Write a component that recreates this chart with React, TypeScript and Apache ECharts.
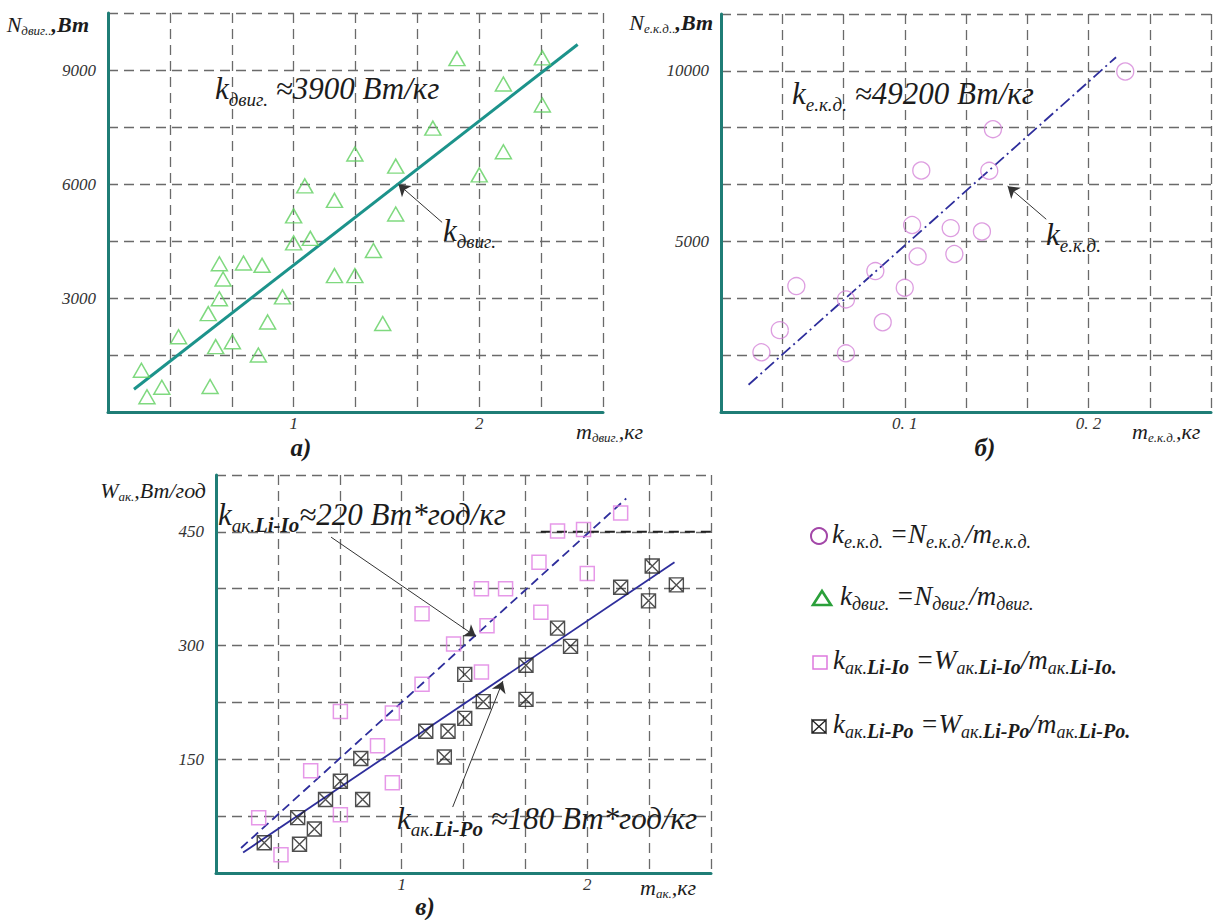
import React, { useEffect, useRef } from "react";
import * as echarts from "echarts";

// ---------- data ----------
// (а) electric motors: mass, kg / power, W
const motorMass = [0.18, 0.21, 0.29, 0.38, 0.54, 0.55, 0.58, 0.6, 0.62, 0.6, 0.67, 0.73, 0.81, 0.83, 0.86, 0.94, 1.0, 1.0, 1.09, 1.06, 1.22, 1.22, 1.33, 1.33, 1.43, 1.48, 1.55, 1.55, 1.75, 1.88, 2.0, 2.13, 2.13, 2.34, 2.34];
const motorPower = [1100, 400, 650, 1980, 2590, 670, 1720, 2980, 3500, 3900, 1850, 3920, 1500, 3860, 2370, 3030, 4450, 5160, 4570, 5950, 5570, 3590, 3590, 6790, 4250, 2330, 5210, 6470, 7470, 9300, 6240, 8630, 6850, 9320, 8080];
const motorFit = [[0.14, 600], [2.53, 9670]];
const motorArrow = [[1.8, 4990], [1.565, 5990]];

// (б) speed controllers: mass, kg / power, W
const ecuMass = [0.022, 0.032, 0.041, 0.068, 0.068, 0.084, 0.088, 0.1, 0.104, 0.107, 0.109, 0.125, 0.127, 0.142, 0.146, 0.148, 0.22];
const ecuPower = [1750, 2400, 3690, 3300, 1720, 4130, 2630, 3640, 5480, 4560, 7080, 5390, 4630, 5290, 7070, 8290, 9980];
const ecuFit = [[0.015, 800], [0.215, 10400]];
const ecuArrow = [[0.177, 5650], [0.156, 6620]];

// (в) batteries: mass, kg / energy, W*h
const liIoMass = [0.23, 0.35, 0.51, 0.67, 0.67, 0.87, 0.95, 0.95, 1.11, 1.11, 1.28, 1.43, 1.43, 1.46, 1.56, 1.75, 1.74, 1.84, 1.98, 2.0, 2.18];
const liIoEnergy = [73, 24, 135, 213, 77, 168, 211, 119, 249, 342, 302, 265, 375, 326, 375, 344, 410, 451, 453, 395, 475];
const liPoMass = [0.26, 0.44, 0.45, 0.53, 0.59, 0.67, 0.78, 0.79, 1.13, 1.25, 1.23, 1.34, 1.34, 1.44, 1.67, 1.67, 1.84, 1.91, 2.18, 2.35, 2.33, 2.48];
const liPoEnergy = [40, 73, 38, 58, 97, 121, 151, 97, 187, 187, 153, 262, 204, 226, 274, 229, 323, 299, 377, 405, 359, 380];
const liIoFit = [[0.135, 33], [2.21, 494]];
const liPoFit = [[0.146, 27], [2.47, 410]];
const liIoArrow = [[0.62, 443], [1.4, 312]];
const liPoArrow = [[1.275, 87], [1.545, 253]];
const ref450 = [[1.75, 450], [8 / 3, 450]];

// tick labels
const motorYLabels = [3000, 6000, 9000];
const ecuYLabels = [5000, 10000];
const battYLabels = [150, 300, 450];
const massXLabels = [1, 2];
const ecuXLabels = [0.1, 0.2];

const FAMILY = "Liberation Serif";
const FONT = "Liberation Serif, DejaVu Serif, serif";
const INK = "#1c1c1c";
const TEAL = "#1f7d76";
const LINE_TEAL = "#1c938b";
const BLUE = "#2e2e9c";
const GRID = "#6a6a6a";

const zip = (a: number[], b: number[]) => a.map((v, i) => [v, b[i]]);
const near = (v: number, list: number[]) => list.find((t) => Math.abs(v - t) < 1e-6);

// ---------- formula text with subscripts ----------
type Kind = "m" | "mb" | "s" | "sb";
type Spec = { big: number; sub: number; sb?: number; drop: number };
let measureCtx: CanvasRenderingContext2D | null = null;
function textWidth(text: string, size: number, bold: boolean) {
  if (!measureCtx) measureCtx = document.createElement("canvas").getContext("2d");
  if (!measureCtx) return text.length * size * 0.5;
  measureCtx.font = `italic ${bold ? "bold " : ""}${size}px ${FAMILY}`;
  return measureCtx.measureText(text).width;
}
function formula(x: number, y: number, spec: Spec, parts: [string, Kind][], align = "left") {
  const items = parts.map(([text, kind]) => {
    const bold = kind === "mb" || kind === "sb";
    const isSub = kind === "s" || kind === "sb";
    const size = kind === "sb" ? spec.sb || spec.sub : isSub ? spec.sub : spec.big;
    return { text, bold, isSub, size, w: textWidth(text, size, bold) };
  });
  const total = items.reduce((a, b) => a + b.w, 0);
  let cx = align === "right" ? x - total : align === "center" ? x - total / 2 : x;
  return items.map((it) => {
    const el = {
      type: "text",
      x: cx,
      y: it.isSub ? y + 0.32 * (spec.big - it.size) + spec.drop : y,
      z: 50,
      silent: true,
      style: {
        text: it.text,
        fontFamily: FAMILY,
        fontStyle: "italic",
        fontWeight: it.bold ? "bold" : "normal",
        fontSize: it.size,
        fill: INK,
        align: "left",
        verticalAlign: "middle",
      },
    };
    cx += it.w;
    return el;
  });
}

function xAxis(gridIndex: number, max: number, interval: number, labels: number[], fmt: (v: number) => string) {
  return {
    gridIndex,
    type: "value",
    min: 0,
    max,
    interval,
    axisLine: { show: true, onZero: false, lineStyle: { color: TEAL, width: 3 } },
    axisTick: { show: false },
    axisLabel: {
      margin: 3,
      fontFamily: FONT,
      fontStyle: "italic",
      fontSize: 17,
      color: "#333",
      formatter: (v: number) => {
        const t = near(v, labels);
        return t === undefined ? "" : fmt(t);
      },
    },
    splitLine: { show: true, lineStyle: { color: GRID, width: 1.3, type: [10, 6] } },
  };
}

function yLabel(v: number, labels: number[]) {
  const t = labels.find((l) => Math.abs(v - l) < 1e-3);
  return t === undefined ? "" : String(t);
}

function yAxis(gridIndex: number, max: number, interval: number, labels: number[]) {
  return {
    gridIndex,
    type: "value",
    min: 0,
    max,
    interval,
    axisLine: { show: true, onZero: false, lineStyle: { color: TEAL, width: 3 } },
    axisTick: { show: false },
    axisLabel: {
      margin: 12,
      fontFamily: FONT,
      fontStyle: "italic",
      fontSize: 17,
      color: "#333",
      formatter: (v: number) => yLabel(v, labels),
    },
    splitLine: { show: true, lineStyle: { color: GRID, width: 1.3, type: [10, 6] } },
  };
}

function fitLine(xi: number, data: number[][], color: string, type: any, width: number, arrow?: number[][]) {
  const s: any = {
    type: "line",
    xAxisIndex: xi,
    yAxisIndex: xi,
    data,
    symbol: "none",
    silent: true,
    z: 3,
    lineStyle: { color, width, type },
  };
  if (arrow) {
    s.markLine = {
      silent: true,
      symbol: ["none", "arrow"],
      symbolSize: 11,
      label: { show: false },
      itemStyle: { color: "#222" },
      lineStyle: { color: "#333", width: 1, type: "solid" },
      data: [[{ coord: arrow[0] }, { coord: arrow[1] }]],
    };
  }
  return s;
}

const CROSS_BOX = "path://M0 0H12V12H0Z M0 0L12 12 M12 0L0 12";

export default function App() {
  const ref = useRef<HTMLDivElement>(null);
  useEffect(() => {
    if (!ref.current) return;
    const chart = echarts.init(ref.current, undefined, { renderer: "svg" });

    const sAnn: Spec = { big: 31, sub: 19, drop: 8 };
    const sAnnC: Spec = { big: 31, sub: 19, sb: 21, drop: 8 };
    const sAx: Spec = { big: 22, sub: 13, drop: 4 };
    const sLeg: Spec = { big: 27, sub: 18, sb: 20, drop: 5 };
    const capStyle = (text: string, x: number, y: number) => ({
      type: "text",
      x,
      y,
      z: 50,
      silent: true,
      style: { text, fontFamily: FAMILY, fontStyle: "italic", fontWeight: "bold", fontSize: 25, fill: INK, align: "center", verticalAlign: "middle" },
    });

    const graphic: any[] = [
      // axis titles
      ...formula(89, 24, sAx, [["N", "m"], ["двиг..", "s"], [",Вт", "mb"]], "right"),
      ...formula(713, 22, sAx, [["N", "m"], ["е.к.д..", "s"], [",Вт", "mb"]], "right"),
      ...formula(206, 490, sAx, [["W", "m"], ["ак.", "s"], [",Вт/год", "m"]], "right"),
      ...formula(576, 431, sAx, [["m", "m"], ["двиг.", "s"], [",кг", "m"]]),
      ...formula(1132, 431, sAx, [["m", "m"], ["е.к.д.", "s"], [",кг", "m"]]),
      ...formula(640, 887, sAx, [["m", "m"], ["ак.", "s"], [",кг", "m"]]),
      // subplot captions
      capStyle("а)", 301, 447),
      capStyle("б)", 985, 447),
      capStyle("в)", 425, 906),
      // annotations
      ...formula(215, 88, sAnn, [["k", "m"], ["двиг.", "s"], [" ≈3900 Вт/кг", "m"]]),
      ...formula(443, 230, sAnn, [["k", "m"], ["двиг.", "s"]]),
      ...formula(792, 93, sAnn, [["k", "m"], ["е.к.д.", "s"], [" ≈49200 Вт/кг", "m"]]),
      ...formula(1046, 234, sAnn, [["k", "m"], ["е.к.д.", "s"]]),
      ...formula(218, 514, sAnnC, [["k", "m"], ["ак.", "s"], ["Li-Io", "sb"], ["≈220 Вт*год/кг", "m"]]),
      ...formula(397, 818, sAnnC, [["k", "m"], ["ак.", "s"], ["Li-Po", "sb"], [" ≈180 Вт*год/кг", "m"]]),
      // legend
      { type: "circle", shape: { cx: 819, cy: 536, r: 8 }, style: { fill: "none", stroke: "#a347a8", lineWidth: 2 } },
      ...formula(832, 534, sLeg, [["k", "m"], ["е.к.д.", "s"], [" =N", "m"], ["е.к.д.", "s"], ["/m", "m"], ["е.к.д.", "s"]]),
      { type: "polygon", shape: { points: [[822, 591], [831, 605], [813, 605]] }, style: { fill: "none", stroke: "#2aa03a", lineWidth: 2.6 } },
      ...formula(840, 596, sLeg, [["k", "m"], ["двиг.", "s"], [" =N", "m"], ["двиг.", "s"], ["/m", "m"], ["двиг.", "s"]]),
      { type: "rect", shape: { x: 813, y: 656, width: 14, height: 13 }, style: { fill: "none", stroke: "#de7ade", lineWidth: 1.5 } },
      ...formula(833, 660, sLeg, [["k", "m"], ["ак.", "s"], ["Li-Io", "sb"], [" =W", "m"], ["ак.", "s"], ["Li-Io", "sb"], ["/m", "m"], ["ак.", "s"], ["Li-Io.", "sb"]]),
      {
        type: "polyline",
        shape: { points: [[812, 720], [826, 720], [826, 733], [812, 733], [812, 720], [826, 733], [826, 720], [812, 733]] },
        style: { fill: "none", stroke: "#222", lineWidth: 1.4 },
      },
      ...formula(833, 724, sLeg, [["k", "m"], ["ак.", "s"], ["Li-Po", "sb"], [" =W", "m"], ["ак.", "s"], ["Li-Po", "sb"], ["/m", "m"], ["ак.", "s"], ["Li-Po.", "sb"]]),
    ];

    const option: any = {
      animation: false,
      backgroundColor: "#ffffff",
      grid: [
        { left: 108, top: 13, width: 495, height: 399 },
        { left: 721, top: 14, width: 490, height: 398 },
        { left: 216, top: 475, width: 495, height: 398 },
      ],
      xAxis: [
        xAxis(0, 8 / 3, 1 / 3, massXLabels, (t) => String(t)),
        xAxis(1, 0.8 / 3, 0.1 / 3, ecuXLabels, (t) => (t === 0.1 ? "0. 1" : "0. 2")),
        xAxis(2, 8 / 3, 1 / 3, massXLabels, (t) => String(t)),
      ],
      yAxis: [
        yAxis(0, 10500, 1500, motorYLabels),
        yAxis(1, 35000 / 3, 5000 / 3, ecuYLabels),
        yAxis(2, 525, 75, battYLabels),
      ],
      series: [
        fitLine(0, motorFit, LINE_TEAL, "solid", 3, motorArrow),
        {
          type: "scatter",
          xAxisIndex: 0,
          yAxisIndex: 0,
          data: zip(motorMass, motorPower),
          symbol: "triangle",
          symbolSize: [16, 14],
          silent: true,
          itemStyle: { color: "rgba(0,0,0,0)", borderColor: "#5fcf5f", borderWidth: 1.5 },
          z: 5,
        },
        fitLine(1, ecuFit, BLUE, [12, 4, 2, 4], 1.8, ecuArrow),
        {
          type: "scatter",
          xAxisIndex: 1,
          yAxisIndex: 1,
          data: zip(ecuMass, ecuPower),
          symbol: "circle",
          symbolSize: 17,
          silent: true,
          itemStyle: { color: "rgba(0,0,0,0)", borderColor: "#d585d8", borderWidth: 1.3 },
          z: 5,
        },
        fitLine(2, liIoFit, BLUE, [9, 5], 1.8, liIoArrow),
        fitLine(2, liPoFit, BLUE, "solid", 1.8, liPoArrow),
        fitLine(2, ref450, "#222", [10, 6], 2),
        {
          type: "scatter",
          xAxisIndex: 2,
          yAxisIndex: 2,
          data: zip(liIoMass, liIoEnergy),
          symbol: "rect",
          symbolSize: 14,
          silent: true,
          itemStyle: { color: "rgba(0,0,0,0)", borderColor: "#e07ee2", borderWidth: 1.5 },
          z: 5,
        },
        {
          type: "scatter",
          xAxisIndex: 2,
          yAxisIndex: 2,
          data: zip(liPoMass, liPoEnergy),
          symbol: CROSS_BOX,
          symbolSize: 14,
          silent: true,
          itemStyle: { color: "rgba(0,0,0,0)", borderColor: "#222", borderWidth: 1.4 },
          z: 5,
        },
      ],
      graphic,
    };
    chart.setOption(option);
    return () => chart.dispose();
  }, []);

  return (
    <div
      ref={ref}
      style={{ position: "fixed", left: 0, top: 0, width: 1215, height: 920, background: "#fff" }}
    />
  );
}
